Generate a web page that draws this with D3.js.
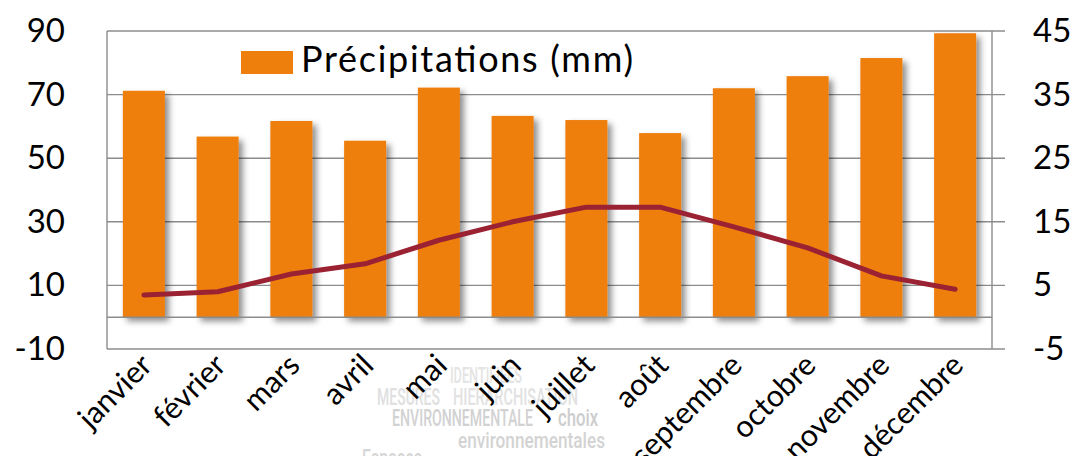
<!DOCTYPE html>
<html>
<head>
<meta charset="utf-8">
<script src="https://cdn.jsdelivr.net/npm/d3@7"></script>
<style>
  html, body { margin: 0; padding: 0; background: #fff; }
  svg { display: block; }
</style>
</head>
<body>
<svg id="chart" width="1075" height="456"></svg>
<script>
// Monthly climate: precipitation bars (left axis) and temperature line (right axis)
const months = ["janvier", "février", "mars", "avril", "mai", "juin",
                "juillet", "août", "septembre", "octobre", "novembre", "décembre"];
const precipitation = [71.2, 56.8, 61.7, 55.5, 72.2, 63.3, 62.0, 57.9, 72.0, 75.8, 81.5, 89.3];
const temperature = [3.5, 4.0, 6.8, 8.4, 12.1, 15.0, 17.3, 17.3, 14.2, 10.9, 6.5, 4.4];
const leftTicks = [-10, 10, 30, 50, 70, 90];
const rightTicks = [-5, 5, 15, 25, 35, 45];
const legendLabel = "Précipitations (mm)";

// Background word cloud fragments
const cloudWords = [
  { t: "IDENTIFIEES", x: 450, y: 383, w: 72, s: 22, c: "#e4e4e4" },
  { t: "MESURES", x: 377, y: 405, w: 63, s: 23, c: "#e0e0e0" },
  { t: "HIERARCHISATION", x: 453, y: 405, w: 125, s: 23, c: "#e2e2e2" },
  { t: "ENVIRONNEMENTALE", x: 392, y: 426, w: 141, s: 23, c: "#d2d2d2" },
  { t: "choix", x: 558, y: 426, w: 40, s: 23, c: "#cdcdcd" },
  { t: "environnementales", x: 458, y: 448, w: 147, s: 22, c: "#d3d3d3" },
  { t: "Espaces", x: 362, y: 466, w: 60, s: 23, c: "#d6d6d6" }
];

const svg = d3.select("#chart");
const plot = { left: 107, right: 992, top: 31, bottom: 349 };
const font = "Lato, 'Open Sans', sans-serif";
const barColor = "#ef7f0c";
const lineColor = "#9b2232";
const gridColor = "#8c8c8c";
const fmt = d => String(d); // plain hyphen for negatives

const x = d3.scaleBand().domain(months)
  .range([plot.left, plot.right]).paddingInner(0.43).paddingOuter(0.215);
const yL = d3.scaleLinear().domain([-10, 90]).range([plot.bottom, plot.top]);
const yR = d3.scaleLinear().domain([-5, 45]).range([plot.bottom, plot.top]);

// Shadow for the bars
const defs = svg.append("defs");
const f = defs.append("filter").attr("id", "barShadow")
  .attr("x", "-30%").attr("y", "-10%").attr("width", "170%").attr("height", "130%");
f.append("feDropShadow").attr("dx", 4).attr("dy", 4).attr("stdDeviation", 3)
  .attr("flood-color", "#000").attr("flood-opacity", 0.45);

// Word cloud behind everything
svg.append("g").selectAll("text").data(cloudWords).join("text")
  .attr("x", d => d.x).attr("y", d => d.y)
  .attr("textLength", d => d.w).attr("lengthAdjust", "spacingAndGlyphs")
  .attr("font-family", "Roboto, sans-serif").attr("font-weight", 500)
  .attr("font-size", d => d.s).attr("fill", d => d.c)
  .text(d => d.t);

// Gridlines (left-axis ticks), with outward marks on the right side
svg.append("g").selectAll("line").data(leftTicks.filter(v => v !== -10)).join("line")
  .attr("x1", plot.left).attr("x2", plot.right + 13)
  .attr("y1", d => yL(d)).attr("y2", d => yL(d))
  .attr("stroke", gridColor).attr("stroke-width", 1.4);

// Bars
svg.append("g").selectAll("rect").data(months).join("rect")
  .attr("x", d => x(d))
  .attr("y", (d, i) => yL(precipitation[i]))
  .attr("width", x.bandwidth())
  .attr("height", (d, i) => yL(0) - yL(precipitation[i]))
  .attr("fill", barColor)
  .attr("filter", "url(#barShadow)");

// Category axis at zero
svg.append("line")
  .attr("x1", plot.left).attr("x2", plot.right)
  .attr("y1", yL(0)).attr("y2", yL(0))
  .attr("stroke", gridColor).attr("stroke-width", 1.4);

// Plot frame: left, right and bottom edges
const frame = svg.append("g").attr("stroke", gridColor).attr("stroke-width", 1.4).attr("fill", "none");
frame.append("line").attr("x1", plot.left).attr("x2", plot.left).attr("y1", plot.top).attr("y2", plot.bottom);
frame.append("line").attr("x1", plot.right).attr("x2", plot.right).attr("y1", plot.top).attr("y2", plot.bottom);
frame.append("line").attr("x1", plot.left).attr("x2", plot.right + 13).attr("y1", plot.bottom).attr("y2", plot.bottom);

// Temperature line
const line = d3.line()
  .x((d, i) => x(months[i]) + x.bandwidth() / 2)
  .y(d => yR(d));
svg.append("path").datum(temperature)
  .attr("d", line).attr("fill", "none")
  .attr("stroke", lineColor).attr("stroke-width", 5)
  .attr("stroke-linecap", "round").attr("stroke-linejoin", "round");

// Left axis labels
const axL = svg.append("g").attr("transform", `translate(${plot.left},0)`)
  .call(d3.axisLeft(yL).tickValues(leftTicks).tickFormat(fmt).tickSize(0).tickPadding(42));
axL.select(".domain").remove();
axL.selectAll("text").attr("font-family", font).attr("font-size", 33).attr("fill", "#000");

// Right axis labels
const axR = svg.append("g").attr("transform", `translate(${plot.right},0)`)
  .call(d3.axisRight(yR).tickValues(rightTicks).tickFormat(fmt).tickSize(0).tickPadding(41));
axR.select(".domain").remove();
axR.selectAll("text").attr("font-family", font).attr("font-size", 33).attr("fill", "#000");

// Month labels, rotated
svg.append("g").selectAll("text").data(months).join("text")
  .attr("transform", d => `translate(${x(d) + x.bandwidth() / 2 - 5},${plot.bottom + 3}) rotate(-45)`)
  .attr("text-anchor", "end").attr("dy", "0.7em")
  .attr("font-family", font).attr("font-size", 30.5).attr("fill", "#000")
  .text(d => d);

// Legend
const lg = svg.append("g");
lg.append("rect").attr("x", 241).attr("y", 51).attr("width", 52).attr("height", 23).attr("fill", barColor);
lg.append("text").attr("x", 301).attr("y", 72)
  .attr("textLength", 332)
  .attr("font-family", font).attr("font-size", 36).attr("fill", "#000")
  .text(legendLabel);
</script>
</body>
</html>
